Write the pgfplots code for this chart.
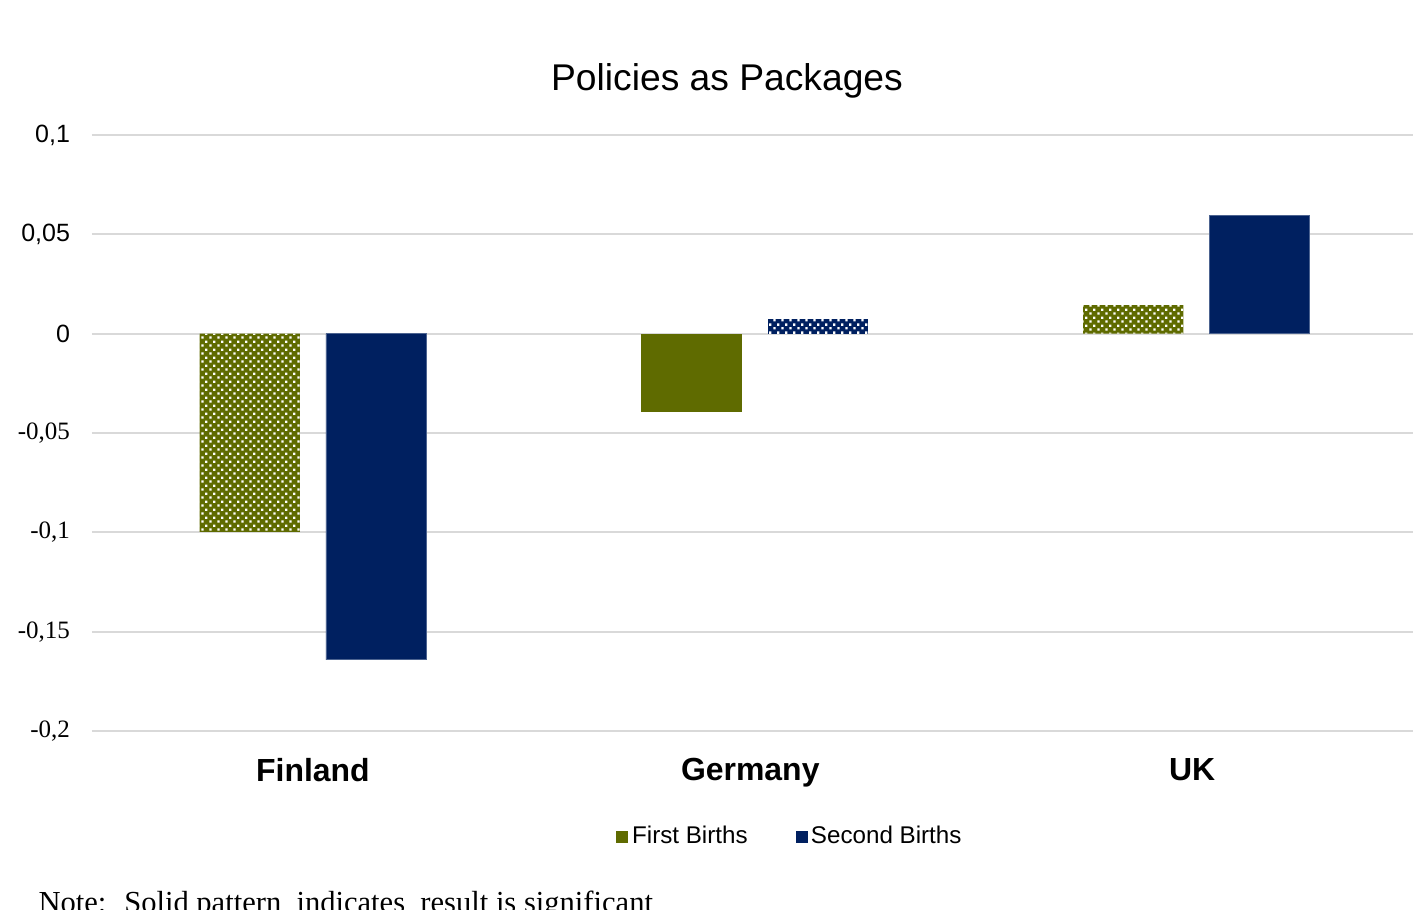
\documentclass[border=0pt]{standalone}
\usepackage{fontspec}
\setmainfont{Liberation Sans}
\newfontfamily\serif{Liberation Serif}
\usepackage{pgfplots}
\pgfplotsset{compat=1.18}
\usetikzlibrary{patterns}
\definecolor{olivebar}{RGB}{95,107,0}
\definecolor{navybar}{RGB}{0,32,96}
\definecolor{gridgray}{RGB}{217,217,217}
\pgfdeclarepatternformonly{wdots}{\pgfqpoint{0pt}{0pt}}{\pgfqpoint{2.9pt}{2.9pt}}{\pgfqpoint{2.9pt}{2.9pt}}{%
  \pgfpathrectangle{\pgfqpoint{0.2pt}{0.2pt}}{\pgfqpoint{0.9pt}{0.9pt}}%
  \pgfpathrectangle{\pgfqpoint{1.65pt}{1.65pt}}{\pgfqpoint{0.9pt}{0.9pt}}%
  \pgfusepath{fill}}
\begin{document}
\begin{tikzpicture}
\useasboundingbox (-33.12pt,-64.08pt) rectangle (475.56pt,263.16pt);
\begin{axis}[
  scale only axis,
  width=475.56pt, height=214.56pt,
  xmin=-0.5, xmax=2.49,
  ymin=-0.2, ymax=0.1,
  axis line style={draw=none},
  tick style={draw=none},
  ymajorgrids,
  grid style={gridgray, line width=0.75pt},
  xtick={0,0.99,1.99},
  xticklabels={Finland,Germany,UK},
  xticklabel style={font=\fontsize{11.5}{13}\selectfont\bfseries, yshift=-6.4pt},
  ytick={-0.2,-0.15,-0.1,-0.05,0,0.05,0.1},
  yticklabels={{\serif -0,2},{\serif -0,15},{\serif -0,1},{\serif -0,05},0,{0,05},{0,1}},
  yticklabel style={font=\fontsize{9}{11}\selectfont, xshift=-4.4pt},
  legend style={at={(0.5284,-0.178)}, anchor=center, draw=none, fill=none,
    legend columns=2, font=\fontsize{8.7}{10}\selectfont,
    /tikz/every even column/.append style={column sep=16.5pt},
    nodes={inner sep=1pt}},
  legend image code/.code={\fill[#1, draw=none] (0pt,-2.15pt) rectangle (4.3pt,2.15pt);},
]
% First Births: solid (significant)
\addplot[ybar, bar width=0.227, bar shift=-0.143, fill=olivebar, draw=none, forget plot]
  coordinates {(1,-0.0394)};
% First Births: patterned (not significant)
\addplot[ybar, bar width=0.227, bar shift=-0.143, fill=olivebar, draw=none, forget plot,
  postaction={pattern=wdots, pattern color=white}]
  coordinates {(0,-0.0998) (2,0.0144)};
% Second Births: solid
\addplot[ybar, bar width=0.227, bar shift=0.143, fill=navybar, draw=navybar!70!white, line width=0.3pt, forget plot]
  coordinates {(0,-0.1642) (2,0.0597)};
% Second Births: patterned
\addplot[ybar, bar width=0.227, bar shift=0.143, fill=navybar, draw=none, forget plot,
  postaction={pattern=wdots, pattern color=white}]
  coordinates {(1,0.0074)};
\addlegendimage{fill=olivebar}
\addlegendentry{\hspace{0.6pt}First Births}
\addlegendimage{fill=navybar}
\addlegendentry{Second Births}
\end{axis}
\node[font=\fontsize{13.4}{16}\selectfont] at (228.6pt,234.2pt) {Policies as Packages};
\node[font=\serif\fontsize{11}{13}\selectfont, anchor=base west, inner sep=0pt] at (-19.44pt,-65.5pt)
  {Note:\hspace{0.25em} Solid pattern\hspace{0.25em} indicates\hspace{0.25em} result is significant};
\end{tikzpicture}
\end{document}
